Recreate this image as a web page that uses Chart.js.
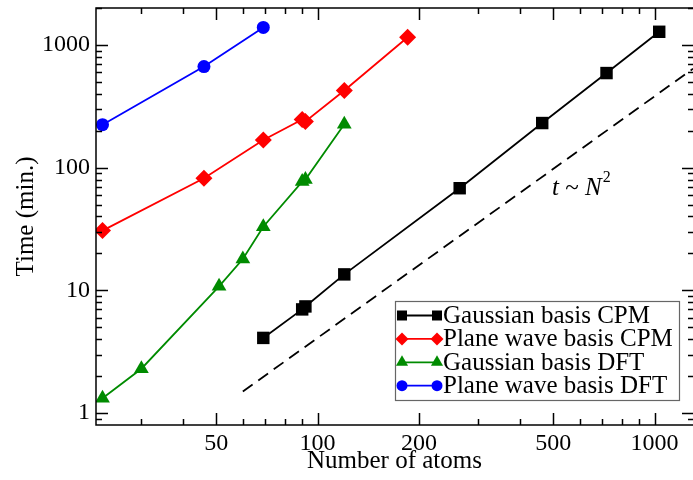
<!DOCTYPE html>
<html><head><meta charset="utf-8">
<script src="https://cdn.jsdelivr.net/npm/chart.js@4.4.0/dist/chart.umd.min.js"></script>
<style>html,body{margin:0;padding:0;background:#fff}canvas{display:block}</style>
</head><body>
<canvas id="c" width="693" height="480"></canvas>
<script>
// ---- data ----
const seriesNames = ['Gaussian basis CPM', 'Plane wave basis CPM', 'Gaussian basis DFT', 'Plane wave basis DFT'];
const gaussCpmX = [69, 90, 92, 120, 264, 464, 720, 1032];
const gaussCpmY = [4.1, 7.0, 7.4, 13.5, 68, 231, 590, 1280];
const planeCpmX = [23, 46, 69, 90, 92, 120, 185];
const planeCpmY = [30.7, 82, 168, 247, 238, 425, 1155];
const gaussDftX = [23, 30, 51, 60, 69, 90, 92, 120];
const gaussDftY = [1.32, 2.3, 10.8, 18, 33, 77, 80, 226];
const planeDftX = [23, 46, 69];
const planeDftY = [224, 666, 1390];
const refLineX = [60, 1300];
const refLineY = [1.5, 640];
const xTickValues = [50, 100, 200, 500, 1000];
const yTickValues = [1, 10, 100, 1000];
const xMinorTicks = [30, 40, 60, 70, 80, 90, 300, 400, 600, 700, 800, 900];
const yMinorTicks = [0.9, 2, 3, 4, 5, 6, 7, 8, 9, 20, 30, 40, 50, 60, 70, 80, 90, 200, 300, 400, 500, 600, 700, 800, 900, 2000];
const xTitle = 'Number of atoms';
const yTitle = 'Time (min.)';

const F = "'Liberation Serif', 'Times New Roman', serif";
const pts = (xs, ys) => xs.map((v, i) => ({x: v, y: ys[i]}));
const colors = ['#000000', '#ff0000', 'rgb(0,139,0)', '#0000ff'];
const shapes = ['rect', 'rectRot', 'triangle', 'circle'];
const radii = [8.8, 8.5, 8.5, 6.5];
const seriesData = [pts(gaussCpmX, gaussCpmY), pts(planeCpmX, planeCpmY), pts(gaussDftX, gaussDftY), pts(planeDftX, planeDftY)];

const datasets = seriesData.map((d, i) => ({
  label: seriesNames[i], data: d, showLine: true, borderColor: colors[i], backgroundColor: colors[i],
  borderWidth: 1.8, pointStyle: shapes[i], pointRadius: radii[i], pointBorderWidth: 0, tension: 0
}));
datasets.push({label: 'ref', data: pts(refLineX, refLineY), showLine: true, borderColor: '#000', borderWidth: 1.8,
  borderDash: [12, 7], pointRadius: 0, tension: 0});

function marker(ctx, shape, x, y, s) {
  ctx.beginPath();
  if (shape === 'rect') { ctx.rect(x - s, y - s, 2 * s, 2 * s); }
  else if (shape === 'rectRot') { ctx.moveTo(x, y - s * 1.3); ctx.lineTo(x + s * 1.3, y); ctx.lineTo(x, y + s * 1.3); ctx.lineTo(x - s * 1.3, y); ctx.closePath(); }
  else if (shape === 'triangle') { const r = s * 1.4; ctx.moveTo(x, y - r); ctx.lineTo(x + r * 0.866, y + r * 0.5); ctx.lineTo(x - r * 0.866, y + r * 0.5); ctx.closePath(); }
  else { ctx.arc(x, y, s * 1.1, 0, Math.PI * 2); }
  ctx.fill();
}

const framePlugin = {
  id: 'frame',
  afterDraw(chart) {
    const {ctx, chartArea: a, scales: {x, y}} = chart;
    ctx.save();
    ctx.strokeStyle = '#000'; ctx.lineWidth = 1.5;
    // frame (right side falls just past the canvas edge, as in the reference)
    ctx.strokeRect(a.left, a.top, a.right + 1.5 - a.left, a.bottom - a.top);
    ctx.beginPath();
    const xt = (v, len) => { const p = Math.round(x.getPixelForValue(v)) + 0.5;
      ctx.moveTo(p, a.bottom); ctx.lineTo(p, a.bottom - len); ctx.moveTo(p, a.top); ctx.lineTo(p, a.top + len); };
    const yt = (v, len) => { const p = Math.round(y.getPixelForValue(v)) + 0.5;
      ctx.moveTo(a.left, p); ctx.lineTo(a.left + len, p); ctx.moveTo(a.right + 1, p); ctx.lineTo(a.right + 1 - len, p); };
    xTickValues.forEach(v => xt(v, 12)); xMinorTicks.forEach(v => xt(v, 6));
    yTickValues.forEach(v => yt(v, 12)); yMinorTicks.forEach(v => yt(v, 6));
    ctx.stroke();

    // legend
    const lx = 395, ly = 301, lw = 284, lh = 99;
    ctx.fillStyle = '#fff'; ctx.fillRect(lx, ly, lw, lh);
    ctx.strokeStyle = '#666'; ctx.lineWidth = 1.2; ctx.strokeRect(lx + 0.5, ly + 0.5, lw, lh);
    ctx.font = '25px ' + F; ctx.textBaseline = 'middle'; ctx.textAlign = 'left';
    seriesNames.forEach((n, i) => {
      const ry = ly + 14.5 + i * 23.4;
      ctx.strokeStyle = colors[i]; ctx.fillStyle = colors[i]; ctx.lineWidth = 1.8;
      ctx.beginPath(); ctx.moveTo(402, ry); ctx.lineTo(437, ry); ctx.stroke();
      marker(ctx, shapes[i], 402, ry, 5); marker(ctx, shapes[i], 437, ry, 5);
      ctx.fillStyle = '#000'; ctx.fillText(n, 443, ry + 1);
    });

    // annotation t ~ N^2
    ctx.fillStyle = '#000'; ctx.textBaseline = 'alphabetic';
    let tx = 552, ty = 195;
    ctx.font = 'italic 25px ' + F; ctx.fillText('t', tx, ty); tx += ctx.measureText('t').width;
    ctx.font = '25px ' + F; ctx.fillText(' ~ ', tx, ty); tx += ctx.measureText(' ~ ').width;
    ctx.font = 'italic 25px ' + F; ctx.fillText('N', tx, ty); tx += ctx.measureText('N').width;
    ctx.font = '16px ' + F; ctx.fillText('2', tx + 1, ty - 13);
    ctx.restore();
  }
};

new Chart(document.getElementById('c'), {
  type: 'scatter',
  data: {datasets},
  plugins: [framePlugin],
  options: {
    responsive: false, animation: false, devicePixelRatio: 1,
    layout: {autoPadding: false, padding: {top: 8, right: 0, left: 0, bottom: 0}},
    plugins: {legend: {display: false}, tooltip: {enabled: false}},
    scales: {
      x: {
        type: 'logarithmic', min: 22, max: 1300,
        grid: {display: false, drawTicks: false}, border: {display: false},
        afterBuildTicks: s => { s.ticks = xTickValues.map(v => ({value: v})); },
        ticks: {autoSkip: false, maxRotation: 0, color: '#000', font: {family: F, size: 24}, padding: 4, callback: v => String(v)},
        title: {display: true, text: xTitle, color: '#000', font: {family: F, size: 25}, padding: {top: 0, bottom: 4}},
        afterFit: s => { s.height = 55; s.paddingLeft = 0; s.paddingRight = 0; }
      },
      y: {
        type: 'logarithmic', min: 0.8, max: 2000,
        grid: {display: false, drawTicks: false}, border: {display: false},
        afterBuildTicks: s => { s.ticks = yTickValues.map(v => ({value: v})); },
        ticks: {autoSkip: false, color: '#000', font: {family: F, size: 24}, padding: 6, callback: v => String(v)},
        title: {display: true, text: yTitle, color: '#000', font: {family: F, size: 25}, padding: {top: 11, bottom: 0}},
        afterFit: s => { s.width = 96; s.paddingTop = 0; s.paddingBottom = 0; }
      }
    }
  }
});
</script>
</body></html>
